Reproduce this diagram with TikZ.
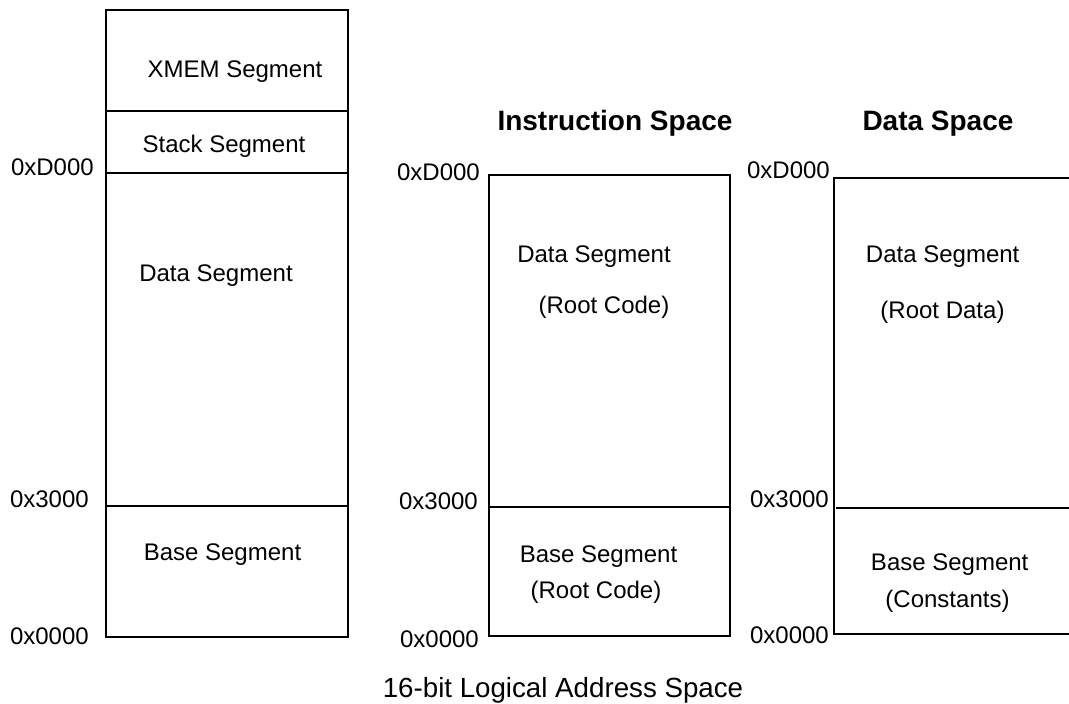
\documentclass[tikz,border=0pt]{standalone}
\usepackage{fontspec}
\setmainfont{Liberation Sans}
\begin{document}
\begin{tikzpicture}[x=1pt,y=-1pt,
  box/.style={line width=2pt},
  lbl/.style={inner sep=0pt,anchor=base,font=\fontsize{24}{28}\selectfont},
  addr/.style={inner sep=0pt,anchor=base east,font=\fontsize{24}{28}\selectfont},
  ttl/.style={inner sep=0pt,anchor=base,font=\fontsize{28}{32}\selectfont\bfseries},
  captiontext/.style={inner sep=0pt,anchor=base,font=\fontsize{27.7}{32}\selectfont}]
\useasboundingbox (0,0) rectangle (1069,704);
% left box
\draw[box] (106,10) rectangle (348,637);
\draw[box] (106,111) -- (348,111);
\draw[box] (106,173) -- (348,173);
\draw[box] (106,506) -- (348,506);
\node[lbl] (xmem) at (235,77) {XMEM Segment};
\node[lbl] (stack) at (224,152) {Stack Segment};
\node[lbl] (dataL) at (216,281) {Data Segment};
\node[lbl] (baseL) at (222.5,560) {Base Segment};
\node[addr] (dL) at (94,175) {0xD000};
\node[addr] (tL) at (89,507) {0x3000};
\node[addr] (zL) at (89,644) {0x0000};
% middle box
\draw[box] (489,175) rectangle (730,636);
\draw[box] (489,507) -- (730,507);
\node[ttl] (instr) at (615,130) {Instruction Space};
\node[lbl] (dataM) at (594,262) {Data Segment};
\node[lbl] (rootM) at (604,313) {(Root Code)};
\node[lbl] (baseM) at (598.5,562) {Base Segment};
\node[lbl] (rootM2) at (596,598) {(Root Code)};
\node[addr] (dM) at (480,180) {0xD000};
\node[addr] (tM) at (478,509) {0x3000};
\node[addr] (zM) at (479,647) {0x0000};
% right box (open on the right)
\draw[box] (1069,178) -- (834,178) -- (834,634) -- (1069,634);
\draw[box] (836,508) -- (1069,508);
\node[ttl] (dspace) at (938,130) {Data Space};
\node[lbl] (dataR) at (942.7,262) {Data Segment};
\node[lbl] (rootR) at (942.5,318) {(Root Data)};
\node[lbl] (baseR) at (949.7,570) {Base Segment};
\node[lbl] (constR) at (947.5,607) {(Constants)};
\node[addr] (dR) at (830,178) {0xD000};
\node[addr] (tR) at (829,507) {0x3000};
\node[addr] (zR) at (829,643) {0x0000};
% caption
\node[captiontext] (caption) at (563,697) {16-bit Logical Address Space};
\end{tikzpicture}
\end{document}
